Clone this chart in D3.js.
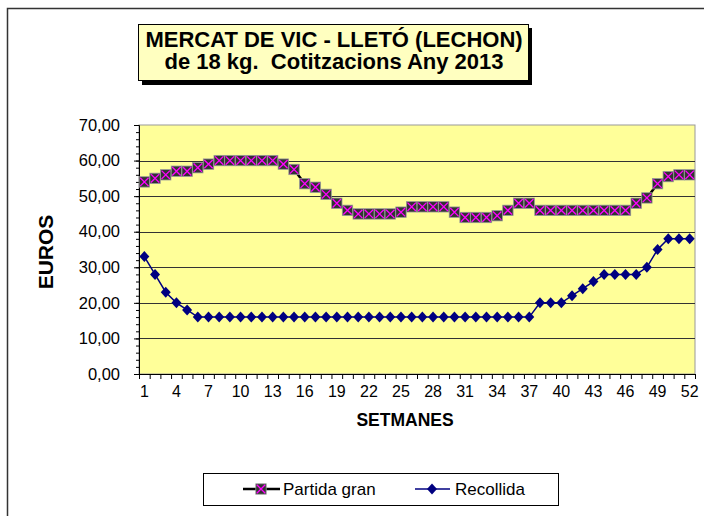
<!DOCTYPE html>
<html>
<head>
<meta charset="utf-8">
<script src="https://cdn.jsdelivr.net/npm/d3@7"></script>
<style>
  body { margin: 0; background: #fff; }
  text { font-family: "Liberation Sans", Arial, sans-serif; }
</style>
</head>
<body>
<div class="d3Area"></div>
<script>
// weekly prices, Vic market 2013
let weeks = d3.range(1, 53);
let partidaGran = [54, 55, 56, 57, 57, 58, 59, 60, 60, 60, 60, 60, 60, 59, 57.5, 53.5, 52.5, 50.5, 48, 46,
  45, 45, 45, 45, 45.5, 47, 47, 47, 47, 45.5, 44, 44, 44, 44.5, 46, 48, 48, 46, 46, 46,
  46, 46, 46, 46, 46, 46, 48, 49.5, 53.5, 55.5, 56, 56];
let recollida = [33, 28, 23, 20, 18, 16, 16, 16, 16, 16, 16, 16, 16, 16, 16, 16, 16, 16, 16, 16,
  16, 16, 16, 16, 16, 16, 16, 16, 16, 16, 16, 16, 16, 16, 16, 16, 16, 20, 20, 20,
  22, 24, 26, 28, 28, 28, 28, 30, 35, 38, 38, 38];
let yTicks = [0, 10, 20, 30, 40, 50, 60, 70];
let xLabels = weeks.filter((w) => (w - 1) % 3 === 0);
let titleLines = ["MERCAT DE VIC - LLETÓ (LECHON)", "de 18 kg.  Cotitzacions Any 2013"];
let seriesNames = ["Partida gran", "Recollida"];

let outerWidth = 704, outerHeight = 516;
let plot = { left: 139, top: 125, right: 695, bottom: 374 };

let svg = d3.select(".d3Area").append("svg")
  .attr("width", outerWidth)
  .attr("height", outerHeight);

// outer chart frame (runs off the picture right/bottom)
svg.append("rect")
  .attr("x", 7.5).attr("y", 8.5)
  .attr("width", 720).attr("height", 540)
  .attr("fill", "#fff")
  .attr("stroke", "#333").attr("stroke-width", 1.5);

let x = d3.scaleBand().domain(weeks).range([plot.left, plot.right]);
let xEdge = d3.scaleLinear().domain([0, 52]).range([plot.left, plot.right]);
let y = d3.scaleLinear().domain([0, 70]).range([plot.bottom, plot.top]);
let cx = (w) => x(w) + x.bandwidth() / 2;

// plot area
svg.append("rect")
  .attr("x", plot.left).attr("y", plot.top)
  .attr("width", plot.right - plot.left).attr("height", plot.bottom - plot.top)
  .attr("fill", "#FFFF99")
  .attr("stroke", "#999").attr("stroke-width", 1);

// gridlines
svg.append("g").selectAll("line")
  .data(yTicks.filter((t) => t > 0 && t < 70))
  .enter().append("line")
  .attr("x1", plot.left).attr("x2", plot.right)
  .attr("y1", (d) => Math.round(y(d)) + 0.5).attr("y2", (d) => Math.round(y(d)) + 0.5)
  .attr("stroke", "#333").attr("stroke-width", 1);

// y axis
let yAxis = svg.append("g")
  .attr("transform", "translate(" + plot.left + ",0)")
  .call(d3.axisLeft(y).tickValues(yTicks).tickSize(5).tickPadding(14)
    .tickFormat((d) => d.toFixed(2).replace(".", ",")));
svg.append("g")
  .attr("transform", "translate(" + plot.left + ",0)")
  .call(d3.axisLeft(y).tickValues(d3.range(0, 71, 2)).tickSize(3).tickFormat(""))
  .select(".domain").remove();
yAxis.selectAll("text").attr("font-size", 16.5).attr("fill", "#000")
  .style("font-family", '"Liberation Sans", Arial, sans-serif');
yAxis.select(".domain").attr("stroke", "#000");

// x axis: ticks on category edges, labels every 3 weeks
svg.append("g")
  .attr("transform", "translate(0," + plot.bottom + ")")
  .call(d3.axisBottom(xEdge).tickValues(d3.range(0, 53)).tickSize(5).tickFormat(""))
  .select(".domain").attr("stroke", "#000");
let xAxis = svg.append("g")
  .attr("transform", "translate(0," + plot.bottom + ")")
  .call(d3.axisBottom(x).tickValues(xLabels).tickSize(0).tickPadding(12));
xAxis.select(".domain").remove();
xAxis.selectAll("text").attr("font-size", 16).attr("fill", "#000")
  .style("font-family", '"Liberation Sans", Arial, sans-serif');

// axis titles
svg.append("text")
  .attr("x", (plot.left + plot.right) / 2 - 12).attr("y", 426)
  .attr("text-anchor", "middle")
  .attr("font-size", 17.5).attr("font-weight", "bold")
  .text("SETMANES");
svg.append("text")
  .attr("transform", "translate(53," + 252 + ") rotate(-90)")
  .attr("text-anchor", "middle")
  .attr("font-size", 21).attr("font-weight", "bold")
  .text("EUROS");

// lines
let line = (vals) => d3.line().x((d, i) => cx(weeks[i])).y((d) => y(d))(vals);

svg.append("path")
  .attr("d", line(partidaGran))
  .attr("fill", "none").attr("stroke", "#000").attr("stroke-width", 2.5);
svg.append("path")
  .attr("d", line(recollida))
  .attr("fill", "none").attr("stroke", "#000080").attr("stroke-width", 1.5);

function crossMarker(g, px, py) {
  g.append("rect")
    .attr("x", px - 5.2).attr("y", py - 5.2).attr("width", 10.4).attr("height", 10.4)
    .attr("fill", "#333").attr("stroke", "#999").attr("stroke-width", 0.8);
  g.append("path")
    .attr("d", "M" + (px - 4.2) + "," + (py - 4.2) + "L" + (px + 4.2) + "," + (py + 4.2) +
      "M" + (px + 4.2) + "," + (py - 4.2) + "L" + (px - 4.2) + "," + (py + 4.2))
    .attr("stroke", "#FF00FF").attr("stroke-width", 1.3);
}
function diamondMarker(g, px, py) {
  g.append("path")
    .attr("d", "M" + px + "," + (py - 5.5) + "L" + (px + 5) + "," + py + "L" + px + "," + (py + 5.5) +
      "L" + (px - 5) + "," + py + "Z")
    .attr("fill", "#000080");
}

let markA = svg.append("g");
partidaGran.forEach((v, i) => crossMarker(markA, cx(weeks[i]), y(v)));
let markB = svg.append("g");
recollida.forEach((v, i) => diamondMarker(markB, cx(weeks[i]), y(v)));

// title box with shadow
svg.append("rect")
  .attr("x", 142).attr("y", 28).attr("width", 390).attr("height", 57)
  .attr("fill", "#000");
svg.append("rect")
  .attr("x", 138.5).attr("y", 24.5).attr("width", 390).attr("height", 56)
  .attr("fill", "#FFFFC0").attr("stroke", "#000").attr("stroke-width", 1);
svg.append("text")
  .attr("text-anchor", "middle")
  .attr("font-size", 22).attr("font-weight", "bold")
  .style("white-space", "pre")
  .selectAll("tspan")
  .data(titleLines)
  .enter().append("tspan")
  .attr("x", 334).attr("y", (d, i) => 47 + i * 21.5)
  .text((d) => d);

// legend
let leg = svg.append("g");
leg.append("rect")
  .attr("x", 203.5).attr("y", 473.5).attr("width", 355).attr("height", 32)
  .attr("fill", "#fff").attr("stroke", "#000").attr("stroke-width", 1);
leg.append("line")
  .attr("x1", 243).attr("x2", 280).attr("y1", 489).attr("y2", 489)
  .attr("stroke", "#000").attr("stroke-width", 2.5);
crossMarker(leg, 261, 489);
leg.append("text").attr("x", 283).attr("y", 495).attr("font-size", 17).text(seriesNames[0]);
leg.append("line")
  .attr("x1", 415).attr("x2", 450).attr("y1", 489).attr("y2", 489)
  .attr("stroke", "#000080").attr("stroke-width", 1.5);
diamondMarker(leg, 432, 489);
leg.append("text").attr("x", 455).attr("y", 495).attr("font-size", 17).text(seriesNames[1]);
</script>
</body>
</html>
